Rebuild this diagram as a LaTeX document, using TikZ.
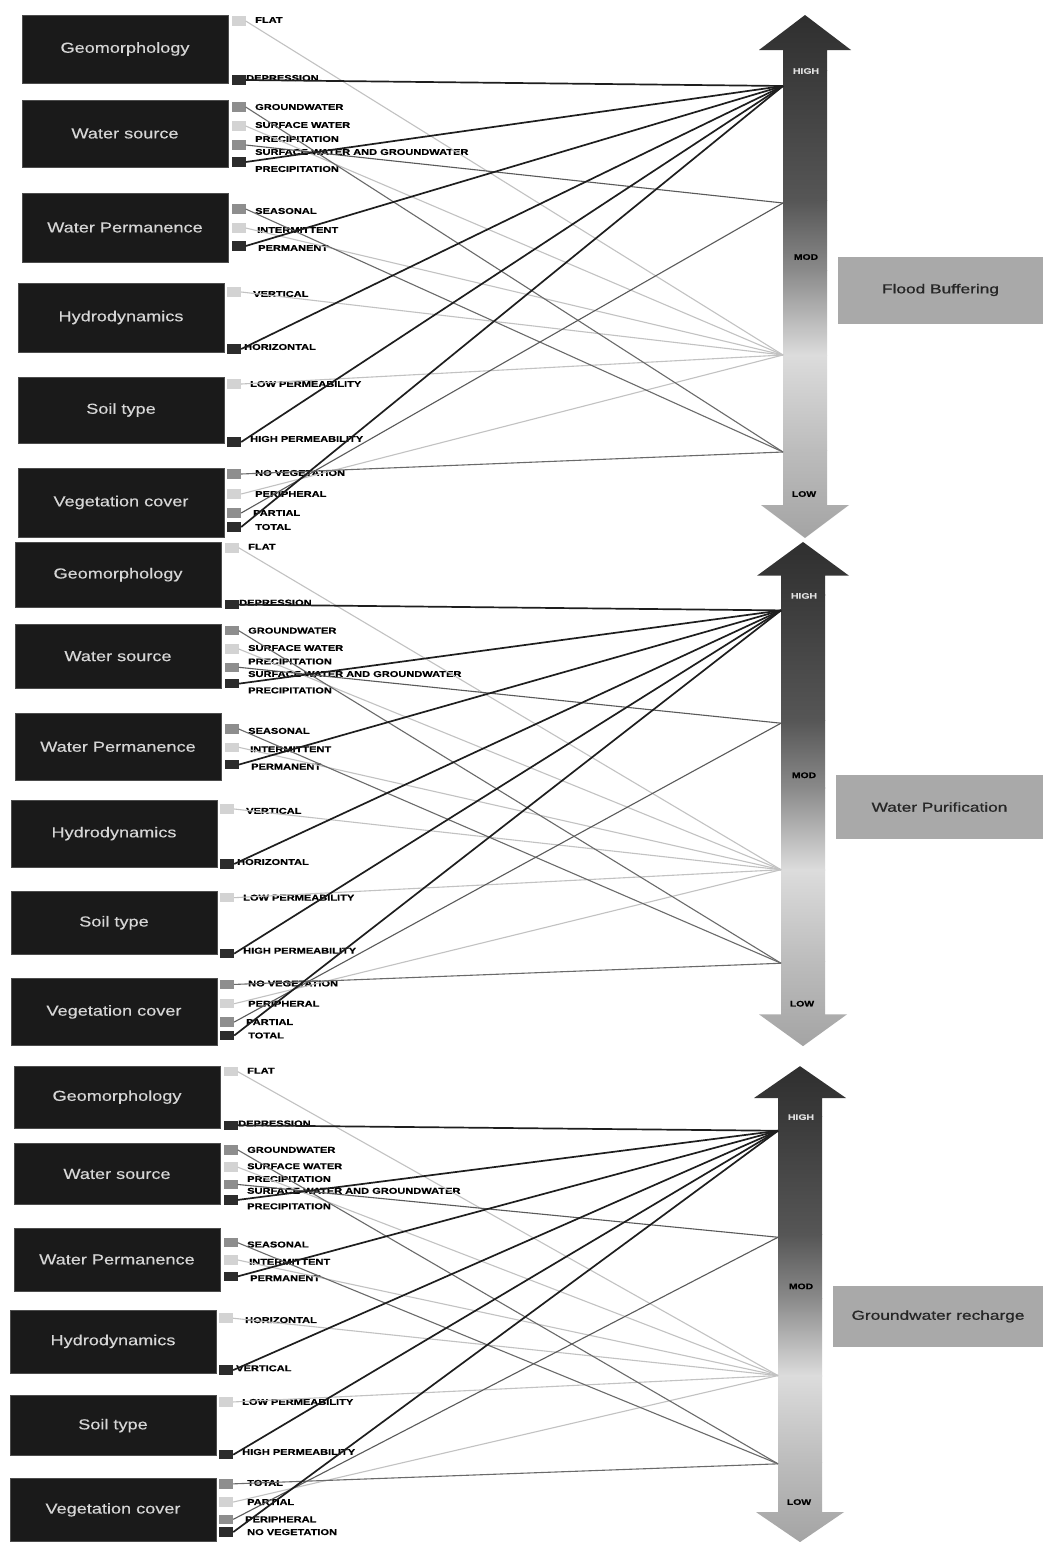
\documentclass[tikz,border=0pt]{standalone}
\usepackage{fontspec}
\setmainfont{Liberation Sans}
\newfontfamily\capsfont{Liberation Sans}[FakeStretch=1.3,BoldFeatures={FakeBold=0.7}]
\newfontfamily\boxfont{Liberation Sans}[FakeStretch=1.25,FakeBold=0.3]
\newfontfamily\svcfont{Liberation Sans}[FakeStretch=1.33,FakeBold=0.8]
\definecolor{boxblack}{HTML}{1A1A1A}
\definecolor{boxtext}{HTML}{D6D6D6}
\definecolor{sqdark}{HTML}{2C2C2C}
\definecolor{sqmid}{HTML}{8E8E8E}
\definecolor{sqlight}{HTML}{D3D3D3}
\definecolor{lnhigh}{HTML}{1E1E1E}
\definecolor{lnmodh}{HTML}{5A5A5A}
\definecolor{lnmodl}{HTML}{C2C2C2}
\definecolor{lnlow}{HTML}{6A6A6A}
\definecolor{svcgray}{HTML}{A9A9A9}
\definecolor{arA}{HTML}{2E2E2E}
\definecolor{arB}{HTML}{3A3A3A}
\definecolor{arC}{HTML}{565656}
\definecolor{arD}{HTML}{8A8A8A}
\definecolor{arE}{HTML}{DCDCDC}
\definecolor{arF}{HTML}{BCBCBC}
\definecolor{arG}{HTML}{A2A2A2}
\tikzset{
  catbox/.style={fill=boxblack, draw=black!70, line width=0.6pt, minimum width=206pt,
    inner sep=0pt, text=boxtext, font=\boxfont\fontsize{14.5}{16}\selectfont},
  sqd/.style={fill=sqdark, minimum width=14pt, minimum height=9.5pt, inner sep=0pt},
  sqm/.style={fill=sqmid, minimum width=14pt, minimum height=9.5pt, inner sep=0pt},
  sql/.style={fill=sqlight, minimum width=14pt, minimum height=9.5pt, inner sep=0pt},
  opt/.style={anchor=west, inner sep=0pt, text=black,
    font=\capsfont\bfseries\fontsize{8.5}{9}\selectfont},
  lnH/.style={draw=lnhigh, line width=1.7pt},
  lnMH/.style={draw=lnmodh, line width=1.1pt},
  lnML/.style={draw=lnmodl, line width=1.1pt},
  lnL/.style={draw=lnlow, line width=1.1pt},
  svcbox/.style={fill=svcgray, inner sep=0pt, text=black!85,
    font=\svcfont\fontsize{13}{15}\selectfont},
  lvl/.style={inner sep=0pt, font=\capsfont\bfseries\fontsize{8}{9}\selectfont}
}
% #1 prefix, #2 y offset, #3 y scale, #4 left x shift, #5 right x shift, #6 service
\newcommand\drawpanel[6]{%
\begin{scope}[shift={(#4,#2)}, yscale=#3]
  \node[catbox, minimum height=#3*68pt] (#1geo) at (125,49) {Geomorphology};
  \node[catbox, minimum height=#3*67pt] (#1ws) at (125,133.5) {Water source};
  \node[catbox, minimum height=#3*69pt] (#1wp) at (125,227.5) {Water Permanence};
  \node[catbox, minimum height=#3*69pt] (#1hd) at (121,317.5) {Hydrodynamics};
  \node[catbox, minimum height=#3*66pt] (#1st) at (121,410) {Soil type};
  \node[catbox, minimum height=#3*69pt] (#1vc) at (121,502.5) {Vegetation cover};
  \node[sql] (#1s1) at (238.5,21) {};
  \node[sqd] (#1s2) at (238.5,80) {};
  \node[sqm] (#1s3) at (238.5,107) {};
  \node[sql] (#1s4) at (238.5,126) {};
  \node[sqm] (#1s5) at (238.5,145) {};
  \node[sqd] (#1s6) at (238.5,162) {};
  \node[sqm] (#1s7) at (238.5,209) {};
  \node[sql] (#1s8) at (238.5,228) {};
  \node[sqd] (#1s9) at (238.5,246) {};
  \node[sql] (#1s10) at (234,292) {};
  \node[sqd] (#1s11) at (234,349) {};
  \node[sql] (#1s12) at (234,384) {};
  \node[sqd] (#1s13) at (234,442) {};
  \node[sqm] (#1s14) at (234,474) {};
  \node[sql] (#1s15) at (234,494) {};
  \node[sqm] (#1s16) at (234,513) {};
  \node[sqd] (#1s17) at (234,527) {};
  \node[opt] (#1l1) at (255,20) {FLAT};
  \node[opt] (#1l2) at (246,78) {DEPRESSION};
  \node[opt] (#1l3) at (255,107) {GROUNDWATER};
  \node[opt] (#1l4) at (255,125) {SURFACE WATER};
  \node[opt] (#1l5) at (255,139) {PRECIPITATION};
  \node[opt] (#1l6) at (255,152) {SURFACE WATER AND GROUNDWATER};
  \node[opt] (#1l7) at (255,169) {PRECIPITATION};
  \node[opt] (#1l8) at (255,211) {SEASONAL};
  \node[opt] (#1l9) at (257,230) {INTERMITTENT};
  \node[opt] (#1l10) at (258,248) {PERMANENT};
  \node[opt] (#1l11) at (253,294) {\labHa};
  \node[opt] (#1l12) at (244,347) {\labHb};
  \node[opt] (#1l13) at (250,384) {LOW PERMEABILITY};
  \node[opt] (#1l14) at (250,439) {HIGH PERMEABILITY};
  \node[opt] (#1l15) at (255,473) {\labVa};
  \node[opt] (#1l16) at (255,494) {\labVb};
  \node[opt] (#1l17) at (253,513) {\labVc};
  \node[opt] (#1l18) at (255,527) {\labVd};
\end{scope}
\begin{scope}[shift={(#5,#2)}, yscale=#3]
  \begin{scope}
    \clip (805,15) -- (851,50) -- (827,50) -- (827,505) -- (849,505) -- (805,538)
      -- (761,505) -- (783,505) -- (783,50) -- (759,50) -- cycle;
    \shade[top color=arA, bottom color=arB] (750,10) rectangle (860,70.5);
    \shade[top color=arB, bottom color=arC] (750,70) rectangle (860,200.5);
    \shade[top color=arC, bottom color=arD] (750,200) rectangle (860,270.5);
    \shade[top color=arD, bottom color=arE] (750,270) rectangle (860,355.5);
    \shade[top color=arE, bottom color=arF] (750,355) rectangle (860,450.5);
    \shade[top color=arF, bottom color=arG] (750,450) rectangle (860,545);
  \end{scope}
  \coordinate (#1T1) at (783,86);
  \coordinate (#1T2) at (783,203);
  \coordinate (#1T3) at (783,355);
  \coordinate (#1T4) at (783,452);
  \node[lvl, text=white!88!black] (#1hi) at (806,71) {HIGH};
  \node[lvl] (#1mod) at (806,257) {MOD};
  \node[lvl] (#1low) at (804,494) {LOW};
  \pgfmathsetmacro\svcw{205-(#5)}
  \node[svcbox, minimum width=\svcw pt, minimum height=#3*67pt] (#1svc)
    at ({838+\svcw/2},290) {#6};
\end{scope}
\draw[lnML] (#1s1.east) -- (#1T3);
\draw[lnML] (#1s4.east) -- (#1T3);
\draw[lnML] (#1s8.east) -- (#1T3);
\draw[lnML] (#1s10.east) -- (#1T3);
\draw[lnML] (#1s12.east) -- (#1T3);
\draw[lnML] (#1s15.east) -- (#1T3);
\draw[lnL] (#1s3.east) -- (#1T4);
\draw[lnL] (#1s7.east) -- (#1T4);
\draw[lnL] (#1s14.east) -- (#1T4);
\draw[lnMH] (#1s5.east) -- (#1T2);
\draw[lnMH] (#1s16.east) -- (#1T2);
\draw[lnH] (#1s2.east) -- (#1T1);
\draw[lnH] (#1s6.east) -- (#1T1);
\draw[lnH] (#1s9.east) -- (#1T1);
\draw[lnH] (#1s11.east) -- (#1T1);
\draw[lnH] (#1s13.east) -- (#1T1);
\draw[lnH] (#1s17.east) -- (#1T1);
}
\begin{document}
\begin{tikzpicture}[x=1pt, y=-1pt]
\useasboundingbox (0,0) rectangle (1043,1542);
\fill[white] (0,0) rectangle (1043,1542);
\def\labHa{VERTICAL}\def\labHb{HORIZONTAL}%
\def\labVa{NO VEGETATION}\def\labVb{PERIPHERAL}\def\labVc{PARTIAL}\def\labVd{TOTAL}%
\drawpanel{a}{0}{1}{0}{0}{Flood Buffering}
\drawpanel{b}{527.5}{0.964}{-7}{-2}{Water Purification}
\def\labHa{HORIZONTAL}\def\labHb{VERTICAL}%
\def\labVa{TOTAL}\def\labVb{PARTIAL}\def\labVc{PERIPHERAL}\def\labVd{NO VEGETATION}%
\drawpanel{c}{1052.5}{0.91}{-8}{-5}{Groundwater recharge}
\end{tikzpicture}
\end{document}
